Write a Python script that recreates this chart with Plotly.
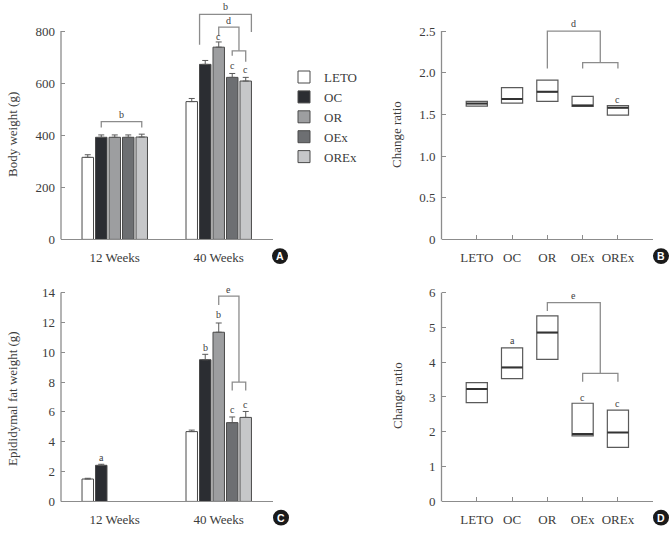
import plotly.graph_objects as go

# ---------------- data ----------------
groups = ["LETO", "OC", "OR", "OEx", "OREx"]
weeks = ["12 Weeks", "40 Weeks"]
bar_colors = ["#ffffff", "#2b2d32", "#9d9ea0", "#6d6f72", "#c6c7c9"]

bw_12 = [315, 392, 392, 392, 393]
bw_12_err = [10, 9, 9, 9, 11]
bw_40 = [529, 672, 738, 622, 608]
bw_40_err = [12, 15, 20, 15, 14]

fat_12 = [1.5, 2.42, None, None, None]
fat_12_err = [0.05, 0.07, 0, 0, 0]
fat_40 = [4.68, 9.5, 11.34, 5.28, 5.63]
fat_40_err = [0.1, 0.36, 0.62, 0.38, 0.4]

bw_ratio_q1 = [1.60, 1.635, 1.655, 1.595, 1.49]
bw_ratio_med = [1.63, 1.685, 1.77, 1.605, 1.58]
bw_ratio_q3 = [1.655, 1.82, 1.91, 1.715, 1.605]

fat_ratio_q1 = [2.84, 3.53, 4.08, 1.88, 1.55]
fat_ratio_med = [3.23, 3.85, 4.85, 1.94, 1.98]
fat_ratio_q3 = [3.41, 4.41, 5.33, 2.82, 2.62]

# ---------------- style ----------------
W, H = 671, 536
FONT = "Liberation Serif, Times New Roman, serif"
TXT = "#3c3c3c"
AX = "#8c8c8c"
BRK = "#8c8c8c"
BOXC = "#5a5a5a"
BARGAP = 0.351
BARGROUPGAP = 0.15
SLOT = (1 - BARGAP) / 5


def px_x(p):
    return p / W


def px_y(p):
    return 1 - p / H


def bar_center(week_idx, g_idx):
    return (week_idx + 1) + (g_idx - 2) * SLOT


fig = go.Figure()

# ---- Panel A and C bars ----
for i, g in enumerate(groups):
    fig.add_trace(go.Bar(
        x=[1, 2], y=[bw_12[i], bw_40[i]], name=g, legendgroup=g,
        marker=dict(color=bar_colors[i], line=dict(color="#4a4a4a", width=1)),
        error_y=dict(type="data", symmetric=False, array=[bw_12_err[i], bw_40_err[i]],
                     arrayminus=[0, 0], color="#5a5a5a", thickness=1, width=3),
        xaxis="x", yaxis="y", showlegend=True, hoverinfo="skip"))
for i, g in enumerate(groups):
    fig.add_trace(go.Bar(
        x=[1, 2], y=[fat_12[i], fat_40[i]], name=g, legendgroup=g,
        marker=dict(color=bar_colors[i], line=dict(color="#4a4a4a", width=1)),
        error_y=dict(type="data", symmetric=False, array=[fat_12_err[i], fat_40_err[i]],
                     arrayminus=[0, 0], color="#5a5a5a", thickness=1, width=3),
        xaxis="x3", yaxis="y3", showlegend=False, hoverinfo="skip"))

# ---- Panel B and D boxes ----
xs = [1, 2, 3, 4, 5]
BOXW = 0.6
for (q1, med, q3, xa, ya) in [(bw_ratio_q1, bw_ratio_med, bw_ratio_q3, "x2", "y2"),
                              (fat_ratio_q1, fat_ratio_med, fat_ratio_q3, "x4", "y4")]:
    fig.add_trace(go.Box(
        x=xs, q1=q1, median=med, q3=q3, lowerfence=q1, upperfence=q3,
        width=BOXW, fillcolor="rgba(255,255,255,0)", line=dict(color=BOXC, width=1.2),
        xaxis=xa, yaxis=ya, showlegend=False, hoverinfo="skip"))
    mx, my = [], []
    for x, m in zip(xs, med):
        mx += [x - BOXW / 2, x + BOXW / 2, None]
        my += [m, m, None]
    fig.add_trace(go.Scatter(x=mx, y=my, mode="lines", line=dict(color="#333333", width=2),
                             xaxis=xa, yaxis=ya, showlegend=False, hoverinfo="skip"))

shapes = []
annotations = []


def bracket(xa, ya, x0, x1, ytop, yl, yr):
    shapes.append(dict(type="path", xref=xa, yref=ya,
                       path=f"M {x0},{yl} L {x0},{ytop} L {x1},{ytop} L {x1},{yr}",
                       line=dict(color=BRK, width=1.3)))


def letter(xa, ya, x, y, t):
    annotations.append(dict(xref=xa, yref=ya, x=x, y=y, text=t, showarrow=False,
                            font=dict(family=FONT, size=10, color=TXT), yanchor="middle"))


# Panel A brackets / letters
bracket("x", "y", bar_center(0, 1), bar_center(0, 4), 452, 430, 430)
letter("x", "y", (bar_center(0, 1) + bar_center(0, 4)) / 2, 481, "b")
xl = bar_center(1, 1) - 0.42 * SLOT
xr = bar_center(1, 4) + 0.42 * SLOT
bracket("x", "y", xl, xr, 864, 747, 796)
letter("x", "y", (xl + xr) / 2, 893, "b")
xmid = (bar_center(1, 3) + bar_center(1, 4)) / 2
bracket("x", "y", bar_center(1, 2), xmid, 815, 781, 724)
letter("x", "y", (bar_center(1, 2) + xmid) / 2, 840, "d")
bracket("x", "y", bar_center(1, 3), bar_center(1, 4), 724, 705, 682)
letter("x", "y", bar_center(1, 2), 780, "c")
letter("x", "y", bar_center(1, 3), 667, "c")
letter("x", "y", bar_center(1, 4), 652, "c")

# Panel B
bracket("x2", "y2", 3, 4.5, 2.5, 2.05, 2.12)
bracket("x2", "y2", 4, 5, 2.12, 2.05, 2.05)
letter("x2", "y2", 3.75, 2.59, "d")
letter("x2", "y2", 5, 1.68, "c")

# Panel C
letter("x3", "y3", bar_center(0, 1), 2.93, "a")
letter("x3", "y3", bar_center(1, 1), 10.35, "b")
letter("x3", "y3", bar_center(1, 2), 12.5, "b")
letter("x3", "y3", bar_center(1, 3), 6.19, "c")
letter("x3", "y3", bar_center(1, 4), 6.49, "c")
bracket("x3", "y3", bar_center(1, 2), xmid, 13.76, 13.17, 8.0)
bracket("x3", "y3", bar_center(1, 3), bar_center(1, 4), 8.0, 7.44, 7.44)
letter("x3", "y3", (bar_center(1, 2) + xmid) / 2, 14.2, "e")

# Panel D
letter("x4", "y4", 2, 4.62, "a")
letter("x4", "y4", 4, 2.99, "c")
letter("x4", "y4", 5, 2.80, "c")
bracket("x4", "y4", 3, 4.5, 5.71, 5.47, 3.68)
bracket("x4", "y4", 4, 5, 3.68, 3.44, 3.44)
letter("x4", "y4", 3.75, 5.92, "e")

# ---- domains ----
XD_L = [px_x(61), px_x(273)]
XD_R = [px_x(441.5), px_x(652.5)]
YA_RANGE = [0, 900]
YA_TOP_PX = 243 - 900 * (211.5 / 800)
YD_A = [px_y(243), px_y(YA_TOP_PX)]
YB_RANGE = [0, 2.62]
YB_TOP_PX = 243 - 2.62 * (211.5 / 2.5)
YD_B = [px_y(243), px_y(YB_TOP_PX)]
YC_RANGE = [0, 14.6]
YC_TOP_PX = 509 - 14.6 * (212 / 14)
YD_C = [px_y(509), px_y(YC_TOP_PX)]
YD_RANGE = [0, 6.2]
YD_TOP_PX = 509 - 6.2 * (212 / 6)
YD_D = [px_y(509), px_y(YD_TOP_PX)]

# y-axis lines (stop at top tick)
for xd, yd, rng, top in [(XD_L, YD_A, YA_RANGE, 800), (XD_R, YD_B, YB_RANGE, 2.5),
                         (XD_L, YD_C, YC_RANGE, 14), (XD_R, YD_D, YD_RANGE, 6)]:
    ytop = yd[0] + (top - rng[0]) / (rng[1] - rng[0]) * (yd[1] - yd[0])
    shapes.append(dict(type="line", xref="paper", yref="paper", x0=xd[0], x1=xd[0],
                       y0=yd[0], y1=ytop, line=dict(color=AX, width=1.3)))

tickfont = dict(family=FONT, size=13, color=TXT)


def xaxis_cfg(domain, rng, tickvals, ticktext, ticks, anchor):
    return dict(domain=domain, range=rng, tickvals=tickvals, ticktext=ticktext,
                ticks=ticks, ticklen=4, tickcolor=AX, tickwidth=1.2, anchor=anchor,
                showline=True, linecolor=AX, linewidth=1.3, showgrid=False,
                zeroline=False, tickfont=tickfont, ticklabelstandoff=6, fixedrange=True)


def yaxis_cfg(domain, rng, tickvals, ticktext, anchor):
    return dict(domain=domain, range=rng, tickvals=tickvals, ticktext=ticktext,
                ticks="inside", ticklen=4, tickcolor=AX, tickwidth=1.2, anchor=anchor,
                showline=False, showgrid=False, zeroline=False, tickfont=tickfont,
                ticklabelstandoff=5, fixedrange=True)


# axis titles
for x, y, t in [(13, 137, "Body weight (g)"), (397, 137, "Change ratio"),
                (13, 405, "Epididymal fat weight (g)"), (397, 402, "Change ratio")]:
    annotations.append(dict(xref="paper", yref="paper", x=px_x(x), y=px_y(y), text=t,
                            textangle=-90, showarrow=False, xanchor="center", yanchor="middle",
                            font=dict(family=FONT, size=13, color=TXT)))

# panel letters in black circles
for cx, cy, t in [(280, 260, "A"), (661, 260, "B"), (281, 525.5, "C"), (661, 525.5, "D")]:
    r = 8
    shapes.append(dict(type="circle", xref="paper", yref="paper",
                       x0=px_x(cx - r), x1=px_x(cx + r), y0=px_y(cy + r), y1=px_y(cy - r),
                       fillcolor="#1a1a1a", line=dict(width=0)))
    annotations.append(dict(xref="paper", yref="paper", x=px_x(cx), y=px_y(cy), text=f"<b>{t}</b>",
                            showarrow=False, font=dict(family="Liberation Sans", size=10.5, color="white"),
                            xanchor="center", yanchor="middle"))

fig.update_layout(
    width=W, height=H, margin=dict(l=0, r=0, t=0, b=0),
    paper_bgcolor="white", plot_bgcolor="white",
    barmode="group", bargap=BARGAP, bargroupgap=BARGROUPGAP,
    boxmode="overlay",
    font=dict(family=FONT, color=TXT),
    xaxis=xaxis_cfg(XD_L, [0.483, 2.522], [1, 2], weeks, "", "y"),
    yaxis=yaxis_cfg(YD_A, YA_RANGE, [0, 200, 400, 600, 800], ["0", "200", "400", "600", "800"], "x"),
    xaxis2=xaxis_cfg(XD_R, [0.0, 5.98], xs, groups, "inside", "y2"),
    yaxis2=yaxis_cfg(YD_B, YB_RANGE, [0, 0.5, 1.0, 1.5, 2.0, 2.5], ["0", "0.5", "1.0", "1.5", "2.0", "2.5"], "x2"),
    xaxis3=xaxis_cfg(XD_L, [0.483, 2.522], [1, 2], weeks, "", "y3"),
    yaxis3=yaxis_cfg(YD_C, YC_RANGE, [0, 2, 4, 6, 8, 10, 12, 14], [str(v) for v in [0, 2, 4, 6, 8, 10, 12, 14]], "x3"),
    xaxis4=xaxis_cfg(XD_R, [0.0, 5.98], xs, groups, "inside", "y4"),
    yaxis4=yaxis_cfg(YD_D, YD_RANGE, [0, 1, 2, 3, 4, 5, 6], [str(v) for v in range(7)], "x4"),
    legend=dict(x=px_x(284), y=px_y(63), xanchor="left", yanchor="top",
                font=dict(family=FONT, size=13, color=TXT), bgcolor="rgba(0,0,0,0)",
                itemwidth=30, tracegroupgap=0, traceorder="normal"),
    shapes=shapes, annotations=annotations,
)

fig.write_html("out.html")
